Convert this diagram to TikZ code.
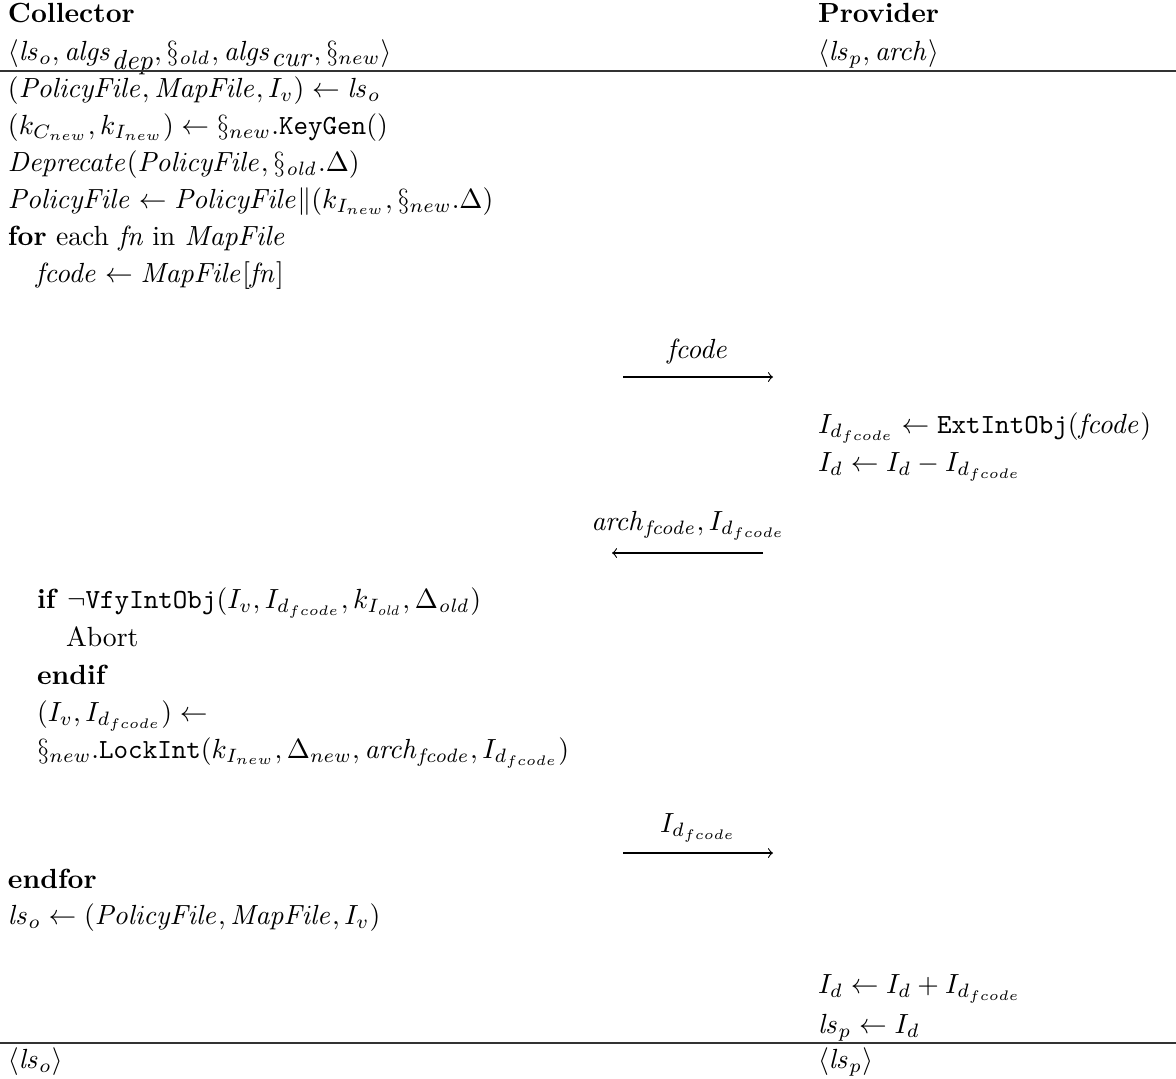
\documentclass[tikz,border=0pt]{standalone}
\usepackage{amsmath,amssymb}
% full-size italic subscripts, as plain \textit gives them in math
\newcommand{\fullsub}[1]{\mbox{\textit{#1}}}
\begin{document}
\begin{tikzpicture}[x=0.361pt,y=-0.361pt,
  txt/.style={anchor=base west,inner sep=0pt,outer sep=0pt},
  msglabel/.style={anchor=base,inner sep=0pt,outer sep=0pt},
  rulebar/.style={line width=0.5pt,draw=black!80},
  msg/.style={-to,line width=0.4pt}]
\useasboundingbox (0,0) rectangle (1176,1078);

% party headers and inputs
\node[txt] (hc) at (8,22) {\textbf{Collector}};
\node[txt] (hp) at (818,22) {\textbf{Provider}};
\node[txt] (ic) at (8,60) {$\langle \mathit{ls}_o, \mathit{algs}_{\fullsub{dep}}, \S_{\mathit{old}}, \mathit{algs}_{\fullsub{cur}}, \S_{new}\rangle$};
\node[txt] (ip) at (818,60) {$\langle \mathit{ls}_p, \mathit{arch}\rangle$};
\coordinate (ta) at (0,71);
\coordinate (tb) at (1176,71);
\draw[rulebar] (ta) -- (tb);

% collector set-up
\node[txt] (c1) at (8,97) {$(\mathit{PolicyFile}, \mathit{MapFile}, I_v) \leftarrow \mathit{ls}_o$};
\node[txt] (c2) at (8,134) {$(k_{C_{new}}, k_{I_{new}}) \leftarrow \S_{new}.\texttt{KeyGen}()$};
\node[txt] (c3) at (8,171) {$\mathit{Deprecate}(\mathit{PolicyFile}, \S_{\mathit{old}}.\Delta)$};
\node[txt] (c4) at (8,208) {$\mathit{PolicyFile} \leftarrow \mathit{PolicyFile} \| (k_{I_{new}}, \S_{new}.\Delta)$};
\node[txt] (c5) at (8,245) {\textbf{for} each \textit{fn} in $\mathit{MapFile}$};
\node[txt] (c6) at (36,282) {$\mathit{fcode} \leftarrow \mathit{MapFile}[\mathit{fn}]$};

% first message
\coordinate (m1a) at (623,377);
\coordinate (m1b) at (773,377);
\node[msglabel] (l1) at (698,358) {$\mathit{fcode}$};
\draw[msg] (m1a) -- (m1b);

% provider extraction
\node[txt] (p1) at (818,433) {$I_{d_{fcode}} \leftarrow \texttt{ExtIntObj}(\mathit{fcode})$};
\node[txt] (p2) at (818,471) {$I_d \leftarrow I_d - I_{d_{fcode}}$};

% second message
\coordinate (m2a) at (763,553);
\coordinate (m2b) at (612,553);
\node[msglabel] (l2) at (688,530) {$\mathit{arch}_{\mathit{fcode}}, I_{d_{fcode}}$};
\draw[msg] (m2a) -- (m2b);

% collector verification and locking
\node[txt] (c7) at (37,608) {\textbf{if} $\neg\texttt{VfyIntObj}(I_v, I_{d_{fcode}}, k_{I_{\mathit{old}}}, \Delta_{\mathit{old}})$};
\node[txt] (c8) at (66,646) {Abort};
\node[txt] (c9) at (37,684) {\textbf{endif}};
\node[txt] (c10) at (37,721) {$(I_v, I_{d_{fcode}}) \leftarrow$};
\node[txt] (c11) at (37,758) {$\S_{new}.\texttt{LockInt}(k_{I_{new}}, \Delta_{new}, \mathit{arch}_{\mathit{fcode}}, I_{d_{fcode}})$};

% third message
\coordinate (m3a) at (623,853);
\coordinate (m3b) at (773,853);
\node[msglabel] (l3) at (698,832) {$I_{d_{fcode}}$};
\draw[msg] (m3a) -- (m3b);

% closing steps
\node[txt] (c12) at (8,888) {\textbf{endfor}};
\node[txt] (c13) at (8,924) {$\mathit{ls}_o \leftarrow (\mathit{PolicyFile}, \mathit{MapFile}, I_v)$};
\node[txt] (p3) at (818,993) {$I_d \leftarrow I_d + I_{d_{fcode}}$};
\node[txt] (p4) at (818,1033) {$\mathit{ls}_p \leftarrow I_d$};
\coordinate (ba) at (0,1043);
\coordinate (bb) at (1176,1043);
\draw[rulebar] (ba) -- (bb);

% outputs
\node[txt] (oc) at (8,1068) {$\langle \mathit{ls}_o\rangle$};
\node[txt] (op) at (818,1068) {$\langle \mathit{ls}_p\rangle$};
\end{tikzpicture}
\end{document}
